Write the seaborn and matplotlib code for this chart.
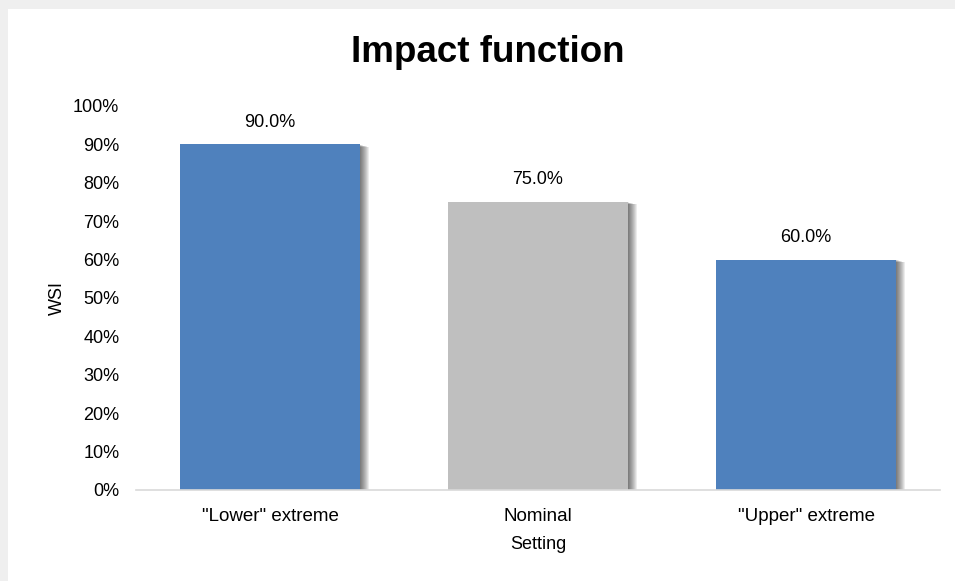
import matplotlib
matplotlib.use("Agg")
import matplotlib.pyplot as plt
import matplotlib.patheffects as pe
from matplotlib.patches import Rectangle
from matplotlib.ticker import PercentFormatter
import seaborn as sns
import pandas as pd

categories = ['"Lower" extreme', 'Nominal', '"Upper" extreme']
wsi_values = [0.90, 0.75, 0.60]
bar_colors = ["#4F81BD", "#BFBFBF", "#4F81BD"]
y_ticks = [0.0, 0.1, 0.2, 0.3, 0.4, 0.5, 0.6, 0.7, 0.8, 0.9, 1.0]

sns.set_theme(style="white")
plt.rcParams["font.family"] = ["Liberation Sans", "DejaVu Sans"]

df = pd.DataFrame({"Setting": categories, "WSI": wsi_values})

fig = plt.figure(figsize=(9.55, 5.81), dpi=100)
fig.patch.set_facecolor("#EFEFEF")
# white chart panel inside a thin grey frame on the top and left
fig.add_artist(Rectangle((8 / 955, 0), 1, 1 - 9 / 581, transform=fig.transFigure,
                         facecolor="white", edgecolor="none", zorder=0))

ax = fig.add_axes([136 / 955, 91 / 581, 804 / 955, 384 / 581])
ax.set_facecolor("none")

sns.barplot(data=df, x="Setting", y="WSI", hue="Setting", palette=bar_colors,
            width=0.67, legend=False, ax=ax, saturation=1, linewidth=0)

# soft drop shadow on each bar
shadow = [pe.SimplePatchShadow(offset=(k * 0.7, -k * 0.2), shadow_rgbFace="black", alpha=0.075)
          for k in range(1, 10)]
for patch in ax.patches:
    patch.set_edgecolor("none")
    patch.set_path_effects(shadow + [pe.Normal()])

for patch, v in zip(ax.patches, wsi_values):
    ax.annotate(f"{v * 100:.1f}%", (patch.get_x() + patch.get_width() / 2, v),
                xytext=(0, 10), textcoords="offset points", ha="center", va="bottom",
                fontsize=13, color="#000000")

ax.set_ylim(0, 1.0)
ax.set_xlim(-0.5, 2.5)
ax.set_yticks(y_ticks)
ax.yaxis.set_major_formatter(PercentFormatter(1.0, decimals=0))
ax.tick_params(axis="y", length=0, labelsize=13, labelcolor="#000000", pad=12)
ax.tick_params(axis="x", length=0, labelsize=13.5, labelcolor="#000000", pad=13)

for side in ["top", "right", "left"]:
    ax.spines[side].set_visible(False)
ax.spines["bottom"].set_color("#D9D9D9")
ax.spines["bottom"].set_linewidth(1.2)

ax.set_xlabel("Setting", fontsize=13, color="#000000", labelpad=8)
ax.set_ylabel("WSI", fontsize=13, color="#000000", labelpad=5)
fig.text(488 / 955, 1 - 53 / 581, "Impact function", ha="center", va="center",
         fontsize=26.5, fontweight="bold", color="#000000")

fig.savefig("out.png", dpi=100, facecolor=fig.get_facecolor())
